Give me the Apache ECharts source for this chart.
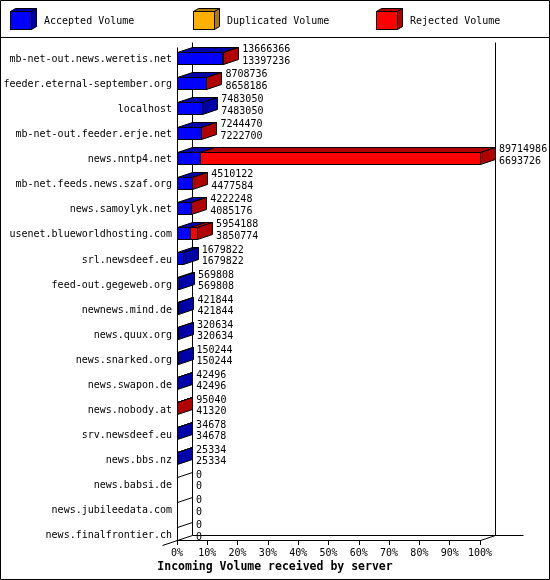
<!DOCTYPE html>
<html>
<head>
<meta charset="utf-8">
<script src="https://cdn.jsdelivr.net/npm/echarts@6/dist/echarts.min.js"></script>
<style>
html, body { margin: 0; padding: 0; background: #fff; }
#chart { width: 550px; height: 580px; }
</style>
</head>
<body>
<div id="chart"></div>
<script>
// servers, top to bottom
const servers = [
  'mb-net-out.news.weretis.net', 'feeder.eternal-september.org', 'localhost',
  'mb-net-out.feeder.erje.net', 'news.nntp4.net', 'mb-net.feeds.news.szaf.org',
  'news.samoylyk.net', 'usenet.blueworldhosting.com', 'srl.newsdeef.eu',
  'feed-out.gegeweb.org', 'newnews.mind.de', 'news.quux.org', 'news.snarked.org',
  'news.swapon.de', 'news.nobody.at', 'srv.newsdeef.eu', 'news.bbs.nz',
  'news.babsi.de', 'news.jubileedata.com', 'news.finalfrontier.ch'
]
// first label line (total volume)
const totals = [13666366, 8708736, 7483050, 7244470, 89714986, 4510122, 4222248, 5954188, 1679822, 569808,
  421844, 320634, 150244, 42496, 95040, 34678, 25334, 0, 0, 0]
// second label line / blue part
const accepted = [13397236, 8658186, 7483050, 7222700, 6693726, 4477584, 4085176, 3850774, 1679822, 569808,
  421844, 320634, 150244, 42496, 41320, 34678, 25334, 0, 0, 0]
const duplicated = [0, 0, 0, 0, 0, 0, 0, 0, 0, 0, 0, 0, 0, 0, 0, 0, 0, 0, 0, 0]
const rejected = [269130, 50550, 0, 21770, 83021260, 32538, 137072, 2103414, 0, 0,
  0, 0, 0, 0, 53720, 0, 0, 0, 0, 0]
const seriesNames = ['Accepted Volume', 'Duplicated Volume', 'Rejected Volume']
const tickLabels = ['0%', '10%', '20%', '30%', '40%', '50%', '60%', '70%', '80%', '90%', '100%']

const FONT = 'DejaVu Sans Mono'
const colors = [['#0000ff', '#0000a8'], ['#ffb000', '#b07c00'], ['#ff0000', '#b00000']]
const dx = 15, dy = 5, faceH = 12 // 3d depth and bar height
const px = v => Math.round(v) + 0.5
const lineStyle = { stroke: '#000', lineWidth: 1 }

const maxTotal = Math.max(...totals)
const pct = v => v / maxTotal * 100
const segments = [accepted, duplicated, rejected]

function buildSeg(k) {
  return servers.map((s, i) => {
    let start = 0
    for (let j = 0; j < k; j++) start += segments[j][i]
    const end = start + segments[k][i]
    let last = -1
    segments.forEach((arr, j) => { if (arr[i] > 0) last = j })
    return [pct(start), i, pct(end), last === k ? 1 : 0, last === -1 ? 1 : 0]
  })
}

function segSeries(k) {
  const front = colors[k][0], dark = colors[k][1]
  return {
    type: 'custom',
    name: seriesNames[k],
    coordinateSystem: 'cartesian2d',
    itemStyle: { color: front },
    encode: { x: [0, 2], y: 1 },
    data: buildSeg(k),
    renderItem(params, api) {
      const row = api.value(1)
      const a = api.coord([api.value(0), row])
      const b = api.coord([api.value(2), row])
      const x0 = px(a[0]), x1 = px(b[0])
      const yt = px(a[1] - faceH / 2), yb = px(a[1] + faceH / 2)
      if (api.value(4) === 1) {
        if (k !== 0) return null
        return { type: 'line', shape: { x1: x0, y1: yt, x2: x0 + dx, y2: yt - dy }, style: lineStyle }
      }
      if (api.value(2) <= api.value(0)) return null
      const children = [
        { type: 'polygon', shape: { points: [[x0, yt], [x1, yt], [x1 + dx, yt - dy], [x0 + dx, yt - dy]] },
          style: Object.assign({ fill: dark }, lineStyle) },
        { type: 'rect', shape: { x: x0, y: yt, width: x1 - x0, height: yb - yt },
          style: Object.assign({ fill: front }, lineStyle) }
      ]
      if (api.value(3) === 1) {
        children.push({ type: 'polygon', shape: { points: [[x1, yt], [x1 + dx, yt - dy], [x1 + dx, yb - dy], [x1, yb]] },
          style: Object.assign({ fill: dark }, lineStyle) })
      }
      return { type: 'group', children }
    }
  }
}

// back walls and floor edges, placed from the grid rect
const frameSeries = {
  type: 'custom',
  name: 'frame',
  coordinateSystem: 'cartesian2d',
  data: [[0, 0]],
  silent: true,
  renderItem(params) {
    const cs = params.coordSys
    const L = px(cs.x), R = px(cs.x + cs.width)
    const T = px(cs.y + 2), B = px(cs.y + cs.height - 6)
    const seg = (x1, y1, x2, y2) => ({ type: 'line', shape: { x1, y1, x2, y2 }, style: lineStyle })
    return {
      type: 'group',
      children: [
        seg(L, T, L, B),
        seg(L + dx, T - dy, L + dx, B - dy),
        seg(R + dx, T - dy, R + dx, B - dy),
        seg(L + dx, B - dy, R + dx + 28, B - dy),
        seg(L - dx, B + dy, L + dx, B - dy),
        seg(R, B, R + dx, B - dy)
      ]
    }
  }
}

const labelSeries = {
  type: 'custom',
  name: 'values',
  coordinateSystem: 'cartesian2d',
  data: totals.map((t, i) => [pct(t), i]),
  silent: true,
  renderItem(params, api) {
    const p = api.coord([api.value(0), api.value(1)])
    const i = params.dataIndex
    const x = p[0] + dx + 4
    const txt = (y, s) => ({ type: 'text', x, y,
      style: { text: s, fill: '#000', font: '10px "' + FONT + '"', verticalAlign: 'middle', align: 'left' } })
    return { type: 'group', children: [txt(p[1] - 8, String(totals[i])), txt(p[1] + 3.5, String(accepted[i]))] }
  }
}

function cube(front, dark) {
  const svg = '<svg xmlns="http://www.w3.org/2000/svg" width="29" height="22" viewBox="0 0 29 22">' +
    '<g stroke="#000" stroke-width="1">' +
    '<polygon points="0.5,3.5 5.5,0.5 26.5,0.5 21.5,3.5" fill="' + dark + '"/>' +
    '<polygon points="21.5,3.5 26.5,0.5 26.5,18.5 21.5,21.5" fill="' + dark + '"/>' +
    '<rect x="0.5" y="3.5" width="21" height="18" fill="' + front + '"/>' +
    '</g></svg>'
  return 'image://data:image/svg+xml;charset=utf-8,' + encodeURIComponent(svg)
}

// nudge text down a couple of px, like the bitmap font
const lowered = { fontFamily: FONT, fontSize: 10, color: '#000', padding: [4, 0, 0, 0] }

function legendAt(k, left) {
  return {
    left, top: 8, padding: 0,
    itemWidth: 29, itemHeight: 22,
    data: [{ name: seriesNames[k], icon: cube(colors[k][0], colors[k][1]) }],
    formatter: name => '{t|' + name + '}',
    textStyle: { fontFamily: FONT, fontSize: 10, color: '#000', rich: { t: lowered } }
  }
}

const chart = echarts.init(document.getElementById('chart'))
chart.setOption({
  animation: false,
  backgroundColor: '#fff',
  textStyle: { fontFamily: FONT },
  title: {
    text: 'Incoming Volume received by server',
    left: 'center', top: 561, padding: 0,
    textStyle: { fontFamily: FONT, fontWeight: 'bold', fontSize: 11.5, color: '#000' }
  },
  legend: [legendAt(0, 10), legendAt(1, 193), legendAt(2, 376)],
  graphic: [
    { type: 'rect', shape: { x: 0.5, y: 0.5, width: 549, height: 579 }, style: { fill: 'none', stroke: '#000', lineWidth: 1 } },
    { type: 'line', shape: { x1: 0, y1: 37.5, x2: 550, y2: 37.5 }, style: { stroke: '#000', lineWidth: 1 } }
  ],
  grid: { left: 177, right: 70, top: 45, bottom: 34 },
  xAxis: {
    type: 'value', min: 0, max: 100, interval: 10, offset: -6,
    axisLine: { show: true, lineStyle: { color: '#000', width: 1 } },
    axisTick: { show: true, length: 5, lineStyle: { color: '#000' } },
    axisLabel: { formatter: (v, idx) => tickLabels[idx], margin: 8, color: '#000', fontSize: 10, fontFamily: FONT },
    splitLine: { show: false }
  },
  yAxis: {
    type: 'category', data: servers, inverse: true,
    axisLine: { show: false }, axisTick: { show: false },
    axisLabel: {
      margin: 5, color: '#000', fontSize: 10, fontFamily: FONT,
      formatter: v => '{t|' + v + '}',
      rich: { t: lowered }
    }
  },
  series: [frameSeries, segSeries(0), segSeries(1), segSeries(2), labelSeries]
})
</script>
</body>
</html>
